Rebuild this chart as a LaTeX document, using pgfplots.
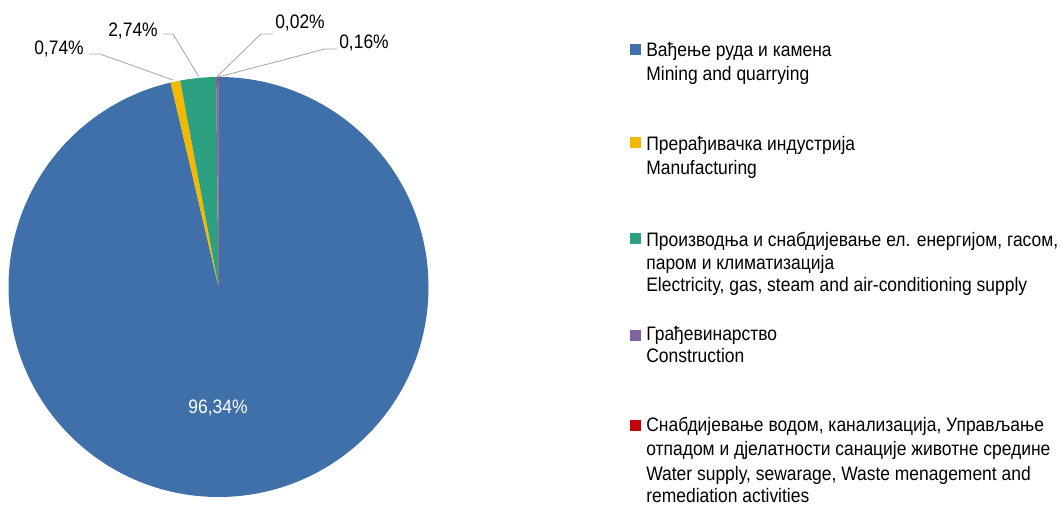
\documentclass[border=0pt]{standalone}
\usepackage{fontspec}
\setmainfont{Liberation Sans}[FakeStretch=0.895]
\usepackage{pgfplots}
\usepackage{pgfplotstable}
\pgfplotsset{compat=1.18}

\definecolor{cBlue}{HTML}{4070A9}
\definecolor{cYellow}{HTML}{F3B800}
\definecolor{cGreen}{HTML}{2CA081}
\definecolor{cPurple}{HTML}{8064A2}
\definecolor{cRed}{HTML}{C0000A}
\definecolor{leader}{HTML}{A6A6A6}

% shares in percent, clockwise from 12 o'clock
\pgfplotstableread[col sep=comma]{
share,col
96.34,cBlue
0.74,cYellow
2.74,cGreen
0.16,cPurple
0.02,cRed
}\sharetable

\newcommand\lbl{\fontsize{11.7}{14}\selectfont}
\def\R{126pt}% 210 px at 0.6pt per px
\tikzset{lg/.style={anchor=base west, font=\lbl, inner sep=0},
         dl/.style={anchor=base, font=\lbl, inner sep=0},
         ll/.style={leader, line width=0.5pt}}

\begin{document}
\begin{tikzpicture}
\begin{axis}[
  x=0.6pt, y=0.6pt,
  xmin=0, xmax=1062, ymin=0, ymax=505,
  hide axis, clip=false,
]
\path (axis cs:0,0) rectangle (axis cs:1062,505);

% pie wedges
\pgfplotstablegetrowsof{\sharetable}
\pgfmathtruncatemacro\nrows{\pgfplotsretval-1}
\def\cum{0}
\pgfplotsforeachungrouped \i in {0,...,\nrows}{%
  \pgfplotstablegetelem{\i}{share}\of\sharetable \let\v\pgfplotsretval
  \pgfplotstablegetelem{\i}{col}\of\sharetable \let\c\pgfplotsretval
  \pgfmathsetmacro\a{90-3.6*\cum}%
  \pgfmathsetmacro\b{90-3.6*(\cum+\v)}%
  \edef\temp{\noexpand\fill[\c] (axis cs:218.5,218) -- ++(\a:\R)
    arc[start angle=\a, end angle=\b, radius=\R] -- cycle;}%
  \temp
  \pgfmathsetmacro\cum{\cum+\v}%
}

% leader lines
\draw[ll] (axis cs:89,451) -- (axis cs:100,451) -- (axis cs:173,425);
\draw[ll] (axis cs:163,471) -- (axis cs:173,471) -- (axis cs:199,428);
\draw[ll] (axis cs:273,471) -- (axis cs:261,471) -- (axis cs:216.7,428);
\draw[ll] (axis cs:337,456) -- (axis cs:325,456) -- (axis cs:218.3,428);

% data labels
\node[dl] at (axis cs:59,450) {0,74\%};
\node[dl] at (axis cs:133,468) {2,74\%};
\node[dl] at (axis cs:300,476) {0,02\%};
\node[dl] at (axis cs:364,456) {0,16\%};
\node[dl, text=white] at (axis cs:218,92) {96,34\%};

% legend markers
\fill[cBlue]   (axis cs:630,450) rectangle (axis cs:641,461);
\fill[cYellow] (axis cs:630,357) rectangle (axis cs:641,368);
\fill[cGreen]  (axis cs:630,261) rectangle (axis cs:641,272);
\fill[cPurple] (axis cs:630,164) rectangle (axis cs:641,175);
\fill[cRed]    (axis cs:630,74)  rectangle (axis cs:641,85);

% legend texts
\node[lg] at (axis cs:646,448) {Вађење руда и камена};
\node[lg] at (axis cs:646,424) {Mining and quarrying};
\node[lg] at (axis cs:646,354) {Прерађивачка индустрија};
\node[lg] at (axis cs:646,330) {Manufacturing};
\node[lg] at (axis cs:646,258) {Производња и снабдијевање ел. енергијом, гасом,};
\node[lg] at (axis cs:646,235.5) {паром и климатизација};
\node[lg] at (axis cs:646,213) {Electricity, gas, steam and air-conditioning supply};
\node[lg] at (axis cs:646,164) {Грађевинарство};
\node[lg] at (axis cs:646,142) {Construction};
\node[lg] at (axis cs:646,74) {Снабдијевање водом, канализација, Управљање};
\node[lg] at (axis cs:646,49.5) {отпадом и дјелатности санације животне средине};
\node[lg] at (axis cs:646,25) {Water supply, sewarage, Waste menagement and};
\node[lg] at (axis cs:646,3) {remediation activities};
\end{axis}
\end{tikzpicture}
\end{document}
